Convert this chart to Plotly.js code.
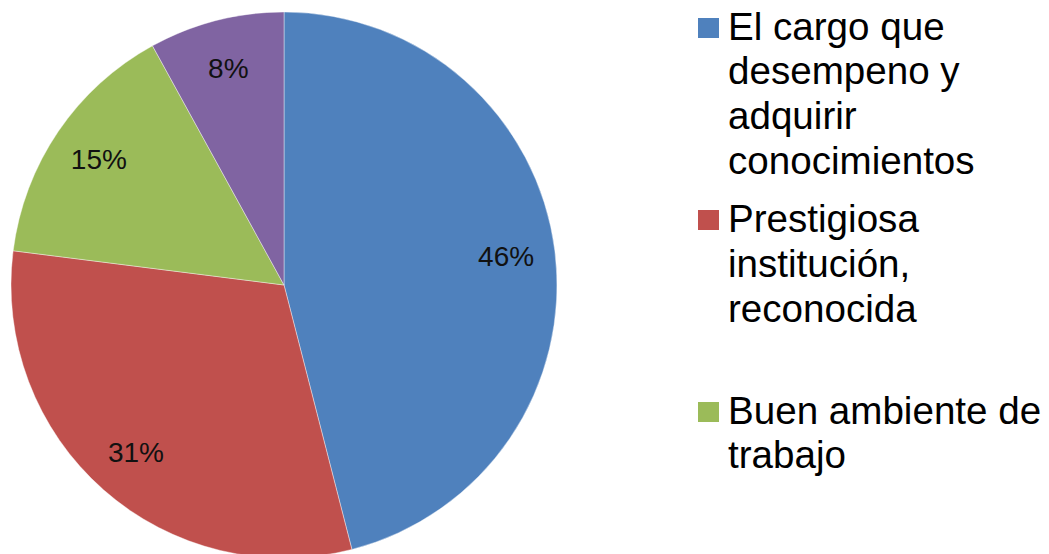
<!DOCTYPE html>
<html>
<head>
<meta charset="utf-8">
<script src="https://cdn.plot.ly/plotly-3.0.1.min.js"></script>
<style>html,body{margin:0;padding:0;background:#fff;overflow:hidden;}#chart{width:1049px;height:560px;}</style>
</head>
<body>
<div id="chart"></div>
<script>
// ---- data ----
const categories = [
  "El cargo que desempeno y adquirir conocimientos",
  "Prestigiosa institución, reconocida",
  "Buen ambiente de trabajo",
  "Otros"
];
const shares = [46, 31, 15, 8];
const sliceColors = ["#4F81BD", "#C0504D", "#9BBB59", "#8064A2"];
// legend text as wrapped in the reference (4th entry falls below the visible area)
const legendLines = [
  ["El cargo que", "desempeno y", "adquirir", "conocimientos"],
  ["Prestigiosa", "institución,", "reconocida"],
  ["Buen ambiente de", "trabajo"]
];

// ---- layout helpers ----
const W = 1049, H = 560;
const px = x => x / W;
const py = y => 1 - y / H;
// pie centre at (284, 285) from top-left, radius 273
const pieDomain = {x: [11 / W, 557 / W], y: [(H - 558) / H, (H - 12) / H]};

const base = {
  type: "pie",
  labels: categories,
  values: shares,
  sort: false,
  direction: "clockwise",
  rotation: 0,
  domain: pieDomain,
  showlegend: false,
  hoverinfo: "label+percent"
};

const fillTrace = Object.assign({}, base, {
  marker: {colors: sliceColors, line: {color: "rgba(255,255,255,0.5)", width: 0.8}},
  textinfo: "none"
});

const labelTrace = Object.assign({}, base, {
  hole: 0.64,
  marker: {colors: sliceColors.map(() => "rgba(0,0,0,0)"), line: {width: 0}},
  textinfo: "percent",
  textposition: "inside",
  insidetextorientation: "horizontal",
  textfont: {family: "Liberation Sans, Arial, sans-serif", size: 28, color: "#111"},
  hoverinfo: "skip"
});

const annotations = [];
const shapes = [];
const entryTop = [18, 210, 402];
const entryBaseline = [39, 232, 423];
const lineStep = 44.7;
legendLines.forEach((lines, k) => {
  shapes.push({
    type: "rect", xref: "paper", yref: "paper",
    x0: px(698), x1: px(719), y0: py(entryTop[k] + 20), y1: py(entryTop[k]),
    fillcolor: sliceColors[k], line: {width: 0}
  });
  lines.forEach((t, j) => {
    annotations.push({
      xref: "paper", yref: "paper",
      x: px(726), y: py(entryBaseline[k] + j * lineStep - 13),
      xanchor: "left", yanchor: "middle",
      text: t, showarrow: false,
      font: {family: "Liberation Sans, Arial, sans-serif", size: 38.6, color: "#000"}
    });
  });
});

const layout = {
  width: W, height: H,
  margin: {l: 0, r: 0, t: 0, b: 0},
  paper_bgcolor: "#ffffff",
  plot_bgcolor: "#ffffff",
  showlegend: false,
  annotations: annotations,
  shapes: shapes
};

Plotly.newPlot("chart", [fillTrace, labelTrace], layout, {displayModeBar: false, staticPlot: true});
</script>
</body>
</html>
